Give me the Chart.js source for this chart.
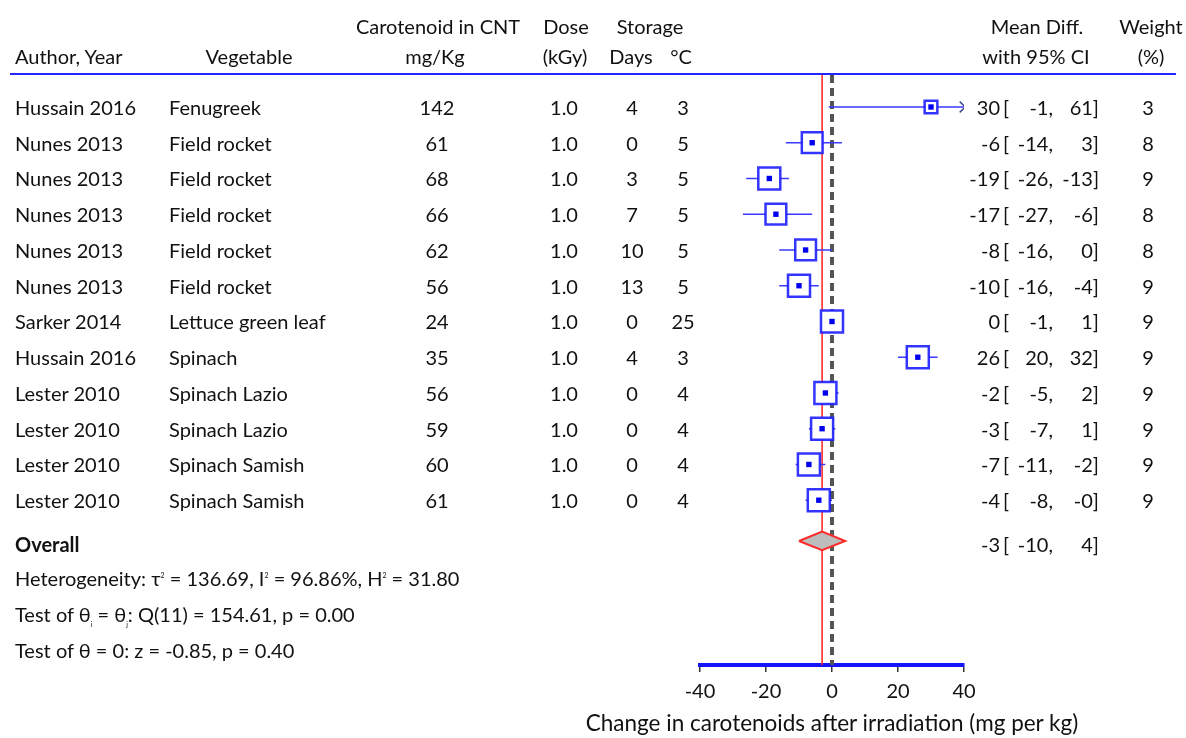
<!DOCTYPE html>
<html lang="en">
<head>
<meta charset="UTF-8">
<title>Carotenoids forest plot</title>
<script src="https://cdn.jsdelivr.net/npm/chart.js"></script>
<style>
  html, body { margin: 0; padding: 0; background: #fff; }
  #wrap {
    position: relative; width: 1186px; height: 738px; overflow: hidden;
    font-family: Lato, "Open Sans", sans-serif; font-size: 20px; color: #111;
  }
  #chartBox { position: absolute; left: 0; top: 0; width: 1186px; height: 738px; }
  .t { position: absolute; white-space: pre; line-height: 22px; transform: translateY(-50%); }
  .t sup, .t sub { font-size: 7px; line-height: 0; }
  .hline { position: absolute; left: 10px; width: 1166px; top: 73px; height: 2px; background: #2424ff; }
</style>
</head>
<body>
<div id="wrap">
  <div id="chartBox"><canvas id="forest"></canvas></div>
  <div class="hline"></div>
</div>

<script>
  // Study data
  const authors = ['Hussain 2016', 'Nunes 2013', 'Nunes 2013', 'Nunes 2013', 'Nunes 2013', 'Nunes 2013',
                   'Sarker 2014', 'Hussain 2016', 'Lester 2010', 'Lester 2010', 'Lester 2010', 'Lester 2010'];
  const vegetables = ['Fenugreek', 'Field rocket', 'Field rocket', 'Field rocket', 'Field rocket', 'Field rocket',
                      'Lettuce green leaf', 'Spinach', 'Spinach Lazio', 'Spinach Lazio', 'Spinach Samish', 'Spinach Samish'];
  const carotenoid = [142, 61, 68, 66, 62, 56, 24, 35, 56, 59, 60, 61];
  const dose = [1.0, 1.0, 1.0, 1.0, 1.0, 1.0, 1.0, 1.0, 1.0, 1.0, 1.0, 1.0];
  const days = [4, 0, 3, 7, 10, 13, 0, 4, 0, 0, 0, 0];
  const temperature = [3, 5, 5, 5, 5, 5, 25, 3, 4, 4, 4, 4];
  const meanDiff = [30, -6, -19, -17, -8, -10, 0, 26, -2, -3, -7, -4];
  const ciLow = [-1, -14, -26, -27, -16, -16, -1, 20, -5, -7, -11, -8];
  const ciHigh = [61, 3, -13, -6, 0, -4, 1, 32, 2, 1, -2, -0];
  const weight = [3, 8, 9, 8, 8, 9, 9, 9, 9, 9, 9, 9];

  // Overall estimate
  const overall = { est: -3, lo: -10, hi: 4 };

  // Axis
  const xTicks = [-40, -20, 0, 20, 40];
  const axisTitle = 'Change in carotenoids after irradiation (mg per kg)';

  const X_MIN = xTicks[0], X_MAX = xTicks[xTicks.length - 1];
  const Y_MIN = 0.105, Y_MAX = 16.61;
  const rows = authors.map((_, i) => i + 1);
  const overallRow = authors.length + 1.14;

  const fmt = v => (Object.is(v, -0) ? '-0' : String(v));

  // CI segments, broken with gaps, clipped at the axis limit
  const ciData = [];
  const arrowData = [];
  rows.forEach((r, i) => {
    ciData.push({ x: Math.max(ciLow[i], X_MIN), y: r }, { x: Math.min(ciHigh[i], X_MAX), y: r }, { x: null, y: null });
    if (ciHigh[i] > X_MAX) {
      arrowData.push({ x: X_MAX - 1.3, y: r - 0.15 }, { x: X_MAX + 0.4, y: r }, { x: X_MAX - 1.3, y: r + 0.15 }, { x: null, y: null });
    }
  });
  const boxData = rows.map((r, i) => ({ x: meanDiff[i], y: r }));
  const boxRadius = weight.map(w => 22 * Math.sqrt(w / 9) / (2 * Math.SQRT1_2));
  const h = 0.26;
  const diamondData = [
    { x: overall.lo, y: overallRow }, { x: overall.est, y: overallRow - h },
    { x: overall.hi, y: overallRow }, { x: overall.est, y: overallRow + h },
    { x: overall.lo, y: overallRow }
  ];

  const chart = new Chart(document.getElementById('forest'), {
    type: 'scatter',
    data: {
      datasets: [
        { data: diamondData, showLine: true, fill: 'shape', backgroundColor: '#bdbdbd',
          borderColor: '#ff2a2a', borderWidth: 2, pointRadius: 0 },
        { data: boxData, pointStyle: 'rect', pointRadius: 3.8, backgroundColor: '#0000ee',
          borderWidth: 0 },
        { data: boxData, pointStyle: 'rect', pointRadius: boxRadius, backgroundColor: '#ffffff',
          borderColor: 'rgba(30,30,255,0.9)', borderWidth: 2.5 },
        { data: arrowData, showLine: true, spanGaps: false, borderColor: '#3b4a8c',
          borderWidth: 1.5, pointRadius: 0 },
        { data: ciData, showLine: true, spanGaps: false, borderColor: '#3a3aff',
          borderWidth: 1.5, pointRadius: 0 },
        { data: [{ x: overall.est, y: Y_MIN }, { x: overall.est, y: Y_MAX }], showLine: true,
          borderColor: '#ff2020', borderWidth: 1.5, pointRadius: 0 },
        { data: [{ x: 0, y: Y_MIN }, { x: 0, y: Y_MAX }], showLine: true,
          borderColor: '#555555', borderWidth: 4, borderDash: [8, 5], pointRadius: 0 }
      ]
    },
    options: {
      responsive: true,
      maintainAspectRatio: false,
      animation: false,
      events: [],
      layout: { padding: { left: 700, right: 222, top: 75, bottom: 0 } },
      plugins: { legend: { display: false }, tooltip: { enabled: false } },
      scales: {
        y: { type: 'linear', display: false, reverse: true, min: Y_MIN, max: Y_MAX },
        x: {
          type: 'linear', min: X_MIN, max: X_MAX,
          afterFit: s => { s.height = 73; },
          afterBuildTicks: s => { s.ticks = xTicks.map(v => ({ value: v })); },
          border: { display: true, color: '#1414ff', width: 4 },
          grid: { display: true, drawOnChartArea: false, drawTicks: true, tickLength: 7, color: '#333', lineWidth: 1.5 },
          ticks: { color: '#111', font: { family: 'Lato', size: 20 }, padding: 8 }
        }
      }
    }
  });

  // Table text, placed on the same row scale as the plot
  const wrap = document.getElementById('wrap');
  const yScale = chart.scales.y;
  function put(text, x, y, align, html, bold) {
    const d = document.createElement('div');
    d.className = 't';
    if (html) d.innerHTML = text; else d.textContent = text;
    d.style.top = y + 'px';
    if (align === 'left') d.style.left = x + 'px';
    else if (align === 'right') d.style.right = (1186 - x) + 'px';
    else { d.style.left = x + 'px'; d.style.transform = 'translate(-50%, -50%)'; }
    if (bold) d.style.fontWeight = 'bold';
    wrap.appendChild(d);
    return d;
  }

  // Header
  put('Carotenoid in CNT', 438, 26, 'center');
  put('Dose', 566, 26, 'center');
  put('Storage', 650, 26, 'center');
  put('Mean Diff.', 1037, 26, 'center');
  put('Weight', 1151, 26, 'center');
  put('Author, Year', 15, 56, 'left');
  put('Vegetable', 249, 56, 'center');
  put('mg/Kg', 435, 56, 'center');
  put('(kGy)', 565, 56, 'center');
  put('Days', 631, 56, 'center');
  put('°C', 681, 56, 'center');
  put('with 95% CI', 1036, 56, 'center');
  put('(%)', 1151, 56, 'center');

  function ciText(y, est, lo, hi) {
    put(fmt(est), 1000, y, 'right');
    put('[', 1003, y, 'left');
    put(fmt(lo) + ',', 1053, y, 'right');
    put(fmt(hi) + ']', 1099, y, 'right');
  }

  rows.forEach((r, i) => {
    const y = yScale.getPixelForValue(r);
    put(authors[i], 15, y, 'left');
    put(vegetables[i], 169, y, 'left');
    put(String(carotenoid[i]), 437, y, 'center');
    put(dose[i].toFixed(1), 564, y, 'center');
    put(String(days[i]), 632, y, 'center');
    put(String(temperature[i]), 683, y, 'center');
    ciText(y, meanDiff[i], ciLow[i], ciHigh[i]);
    put(String(weight[i]), 1148, y, 'center');
  });

  const yo = yScale.getPixelForValue(overallRow);
  put('Overall', 15, yo + 3, 'left', false, true);
  ciText(yo + 3, overall.est, overall.lo, overall.hi);
  put('Heterogeneity: τ<sup>2</sup> = 136.69, I<sup>2</sup> = 96.86%, H<sup>2</sup> = 31.80', 15, yo + 37, 'left', true);
  put('Test of θ<sub>i</sub> = θ<sub>j</sub>: Q(11) = 154.61, p = 0.00', 15, yo + 73, 'left', true);
  put('Test of θ = 0: z = -0.85, p = 0.40', 15, yo + 109, 'left');

  // Axis title, centred under the x scale
  const xScale = chart.scales.x;
  put(axisTitle, (xScale.left + xScale.right) / 2, 723, 'center').style.fontSize = '22.5px';
</script>
</body>
</html>
